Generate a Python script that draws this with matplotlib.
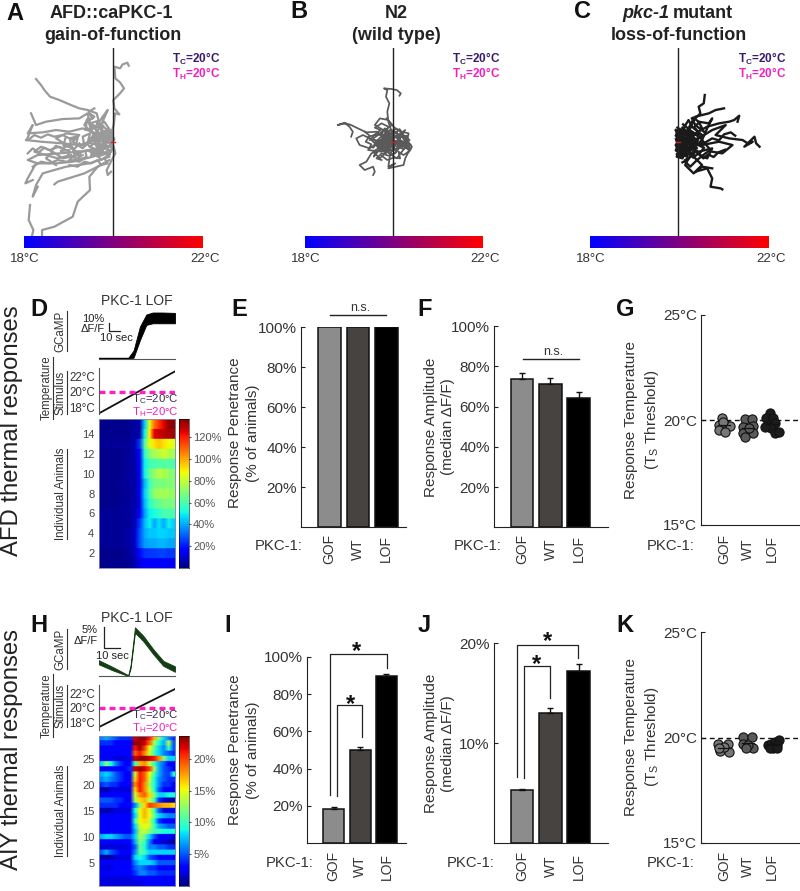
import numpy as np
import matplotlib
matplotlib.use("Agg")
import matplotlib.pyplot as plt
from matplotlib.colors import LinearSegmentedColormap
from matplotlib.lines import Line2D

plt.rcParams['font.family'] = ['Liberation Sans', 'DejaVu Sans']
plt.rcParams['mathtext.fontset'] = 'custom'
plt.rcParams['mathtext.rm'] = 'Liberation Sans'
plt.rcParams['mathtext.bf'] = 'Liberation Sans:bold'

# worm tracks, offsets from the start point
tracks_a = [
    [(0,0),(-3,-30),(3,-50),(7,-85),(20,-82),(5,-100),(2,-125),(22,-145),(34,-160),(22,-178),(8,-190),(5,-225),(22,-220),(30,-232),(44,-237),(48,-228)],
    [(0,0),(-25,-20),(-40,-55),(-48,-85),(-75,-95),(-100,-100),(-125,-110),(-160,-125),(-188,-135),(-205,-155),(-215,-170),(-230,-188)],
    [(0,0),(-40,-25),(-70,-60),(-75,-85),(-100,-70),(-150,-68),(-200,-60),(-230,-50),(-245,-85)],
    [(-5,-5),(-50,-25),(-90,-40),(-130,-30),(-170,-35),(-210,-28),(-255,-25),(-240,-50),(-258,-5)],
    [(-5,5),(-50,-5),(-100,10),(-150,5),(-215,0),(-260,-5)],
    [(-5,15),(-60,25),(-100,30),(-160,35),(-225,40),(-255,55),(-225,65)],
    [(-5,25),(-60,45),(-120,60),(-170,65),(-230,65),(-255,110),(-262,125),(-240,115)],
    [(-10,45),(-70,65),(-140,75),(-210,95),(-230,130),(-240,165),(-225,135)],
    [(-10,55),(-45,75),(-70,105),(-68,145),(-105,180),(-120,225),(-175,255),(-212,265),(-212,282)],
    [(-25,65),(-85,95),(-165,120),(-175,128)],
    [(-248,190),(-252,235),(-238,265),(-242,282)],
    [(3,15),(8,35),(-3,55),(-18,85),(-15,100),(-5,90)],
    [(0,0),(-20,-30),(-45,-10),(-65,-35),(-75,-70),(-85,-50),(-40,-5),(-70,15),(-30,30),(-60,35),(-20,10),(0,20)],
    [(-10,-10),(-60,-10),(-90,20),(-120,0),(-100,-20),(-140,-25),(-170,-10),(-130,15),(-100,40),(-150,50),(-180,30),(-200,50),(-170,70)],
    [(0,10),(-30,-15),(-55,-40),(-25,-60),(-5,-30),(-30,5),(-50,25),(-10,40),(-35,55),(-60,20),(-80,5)],
    [(-15,0),(-45,20),(-30,-25),(-70,-5),(-40,-40),(-15,-20),(-25,15),(-5,30),(-45,45),(-75,25),(-110,35),(-130,55),(-100,60),(-80,45)],
    [(-60,-70),(-70,-85),(-55,-75),(-75,-60),(-50,-45),(-30,-75),(-15,-95),(-35,-50),(-15,-35)],
    [(-130,30),(-160,15),(-190,25),(-215,15),(-235,30),(-200,40),(-165,50),(-125,40)],
    [(0,-5),(-12,-18),(-30,-8),(-22,12),(-45,5),(-38,-22),(-60,-18),(-52,8),(-75,2),(-68,-25),(-90,-15),(-85,12),(-110,8),(-105,-12),(-128,-5),(-122,18),(-148,12),(-142,-10)],
    [(-5,5),(-18,22),(-8,38),(-32,32),(-25,12),(-48,18),(-42,38),(-65,42),(-58,22),(-82,28),(-78,48),(-102,52),(-95,30),(-118,28),(-112,48),(-135,45),(-130,25),(-155,28)],
    [(-2,-10),(-15,-35),(-35,-28),(-28,-48),(-50,-42),(-45,-62),(-68,-55),(-60,-38),(-82,-35),(-78,-58),(-62,-72),(-72,-90),(-55,-100)],
    [(-20,-15),(-10,-8),(-28,5),(-15,18),(-35,25),(-50,12),(-40,-5),(-58,-8),(-48,-25),(-30,-18),(-18,-38),(-5,-22),(5,-8),(-8,8),(3,22),(-12,30)],
    [(-100,5),(-115,22),(-135,8),(-150,22),(-170,12),(-185,28),(-205,18),(-222,32),(-240,20),(-255,35)],
    [(-110,-15),(-130,-10),(-150,-20),(-175,-15),(-195,-22),(-215,-12),(-235,-20),(-250,-8)],
    [(-90,40),(-115,55),(-140,60),(-165,55),(-190,65),(-215,60),(-240,75)],
    [(-5,30),(-25,50),(-15,65),(-35,70),(-45,55),(-65,65),(-85,60),(-105,75),(-130,70)],
]
tracks_b = [
    [(0,0),(-5,-30),(-15,-60),(-18,-90),(-12,-115),(-22,-135),(-18,-155),(-28,-160),(-5,-158),(10,-155),(22,-145),(18,-138)],
    [(-20,-10),(-50,-30),(-80,-28),(-105,-40),(-125,-50),(-140,-55),(-165,-50),(-145,-57),(-130,-45),(-120,-30),(-125,-15)],
    [(0,0),(-30,-35),(-55,-50),(-40,-70),(-15,-65),(5,-40),(25,-30),(45,-25),(40,0),(55,15),(45,30)],
    [(-10,5),(-40,25),(-65,35),(-80,60),(-100,70),(-85,85),(-60,75),(-55,90),(-60,100)],
    [(5,5),(-10,40),(-15,75),(5,65),(-15,80),(30,70),(35,50),(45,30)],
    [(0,0),(-60,-5),(-90,-20),(-110,-10),(-100,10),(-70,20),(-50,5),(-30,30),(-10,10),(10,25),(30,5),(50,20),(25,-15),(0,-30),(-25,-15)],
    [(-5,0),(-35,-25),(-75,-15),(-50,10),(-20,-10),(10,-15),(35,-35),(15,-5),(-10,20),(-40,15),(-60,-10),(-30,-30),(-5,-50),(-20,-70)],
    [(0,5),(30,15),(45,5),(25,30),(10,50),(-20,30),(-40,50),(-60,30),(-30,10),(20,-5),(40,20)],
    [(-25,5),(-5,15),(-40,-5),(-15,-15),(-45,15),(-10,25),(-30,-15),(5,10),(-20,25),(15,-5),(-35,30),(-5,-10),(-50,0),(0,15)],
    [(-45,-25),(-30,-10),(-48,5),(-25,15),(-40,30),(-15,25),(-5,40),(10,28),(-8,12),(12,5),(-5,-12),(15,-22),(-10,-35),(-28,-22),(-18,-5),(5,-2),(28,8),(40,-10),(22,-20)],
    [(-70,-5),(-55,-22),(-38,-35),(-55,-42),(-35,-55),(-15,-45),(-22,-28),(0,-20),(18,-38),(30,-20),(48,-5),(32,12),(48,28),(30,40),(15,30),(20,50),(0,48),(-18,55),(-35,42)],
    [(-85,-30),(-70,-18),(-82,0),(-65,8),(-75,25),(-50,28),(-58,45),(-38,20),(-22,35),(-28,8),(-10,-8),(-35,-15),(-12,-25),(8,-12),(25,-2),(10,15),(30,22),(52,10),(35,-8)],
    [(-25,-10),(-15,5),(-30,12),(-10,18),(-20,30),(0,22),(8,8),(-5,0),(5,-15),(-12,-18),(-22,-30),(-5,-35),(10,-28),(20,-10),(15,10),(35,15),(52,22),(40,35)],
    [(-60,18),(-42,-2),(-30,20),(-12,5),(-20,-15),(-40,-25),(-25,-40),(-8,-25),(8,-40),(22,-28),(12,-5),(30,0),(18,18),(5,35),(-15,42),(-35,35),(-50,50),(-35,55)],
    [(-10,-2),(-2,8),(-18,12),(-8,-12),(-25,-5),(-32,8),(-18,22),(-2,28),(12,18),(22,5),(12,-10),(28,-15),(38,5),(25,18),(42,-18),(-40,-12),(-55,5),(-42,22)],
]
tracks_c = [
    [(0,0),(25,-30),(40,-60),(65,-85),(60,-105),(75,-115),(78,-140)],
    [(0,0),(35,-40),(50,-75),(90,-85),(110,-95),(135,-100)],
    [(0,0),(50,-25),(85,-45),(120,-55),(150,-60),(165,-65),(180,-78),(175,-60)],
    [(0,0),(60,-10),(100,-35),(140,-50),(110,-20),(150,-10),(190,-5),(205,5),(220,0),(195,15),(225,-15),(230,5),(240,15)],
    [(0,5),(70,10),(120,0),(160,10),(130,35),(100,30)],
    [(0,5),(40,40),(70,70),(50,90),(85,80),(100,110),(95,135),(125,140),(130,143)],
    [(0,10),(30,50),(20,70),(45,95),(70,75),(100,80)],
    [(0,5),(60,30),(100,20),(85,50),(65,40)],
    [(-5,-30),(5,-10),(-8,10),(8,30),(-5,45),(12,50),(25,20),(5,-20),(15,-40),(-3,-15),(20,5),(-6,25),(30,-15),(35,15),(10,40),(50,5),(25,-30)],
    [(0,-35),(12,-20),(-5,0),(15,15),(0,30),(30,35),(45,15),(20,-5),(40,-30),(60,-15),(45,40),(20,55)],
    [(5,-25),(-6,-5),(25,0),(-3,20),(35,-20),(10,10),(55,20),(15,-30),(70,-20),(40,-45),(30,-65),(15,-40),(-4,-28)],
    [(40,-70),(50,-50),(75,-30),(60,-60),(90,-55),(100,-70),(85,-40),(70,-5),(95,25),(80,35),(55,55),(35,75),(20,60)],
    [(-8,-35),(2,-28),(-8,-18),(6,-12),(-6,-4),(8,4),(-7,12),(6,18),(-8,26),(6,34),(-4,42),(10,48),(18,32),(8,14),(20,-2),(10,-20),(22,-34),(12,-42)],
    [(4,-38),(-6,-30),(10,-24),(-5,-12),(14,-8),(-4,2),(16,10),(-2,20),(18,26),(2,38),(24,44),(34,28),(22,12),(38,2),(26,-14),(42,-24),(28,-40),(14,-52)],
    [(-3,-42),(8,-32),(18,-18),(4,-6),(24,-2),(10,12),(28,18),(14,32),(36,40),(50,26),(38,10),(56,-2),(42,-16),(60,-28),(46,-44),(62,-58),(44,-72)],
    [(-7,-8),(3,-16),(12,0),(0,8),(-6,20),(10,24),(22,8),(32,-8),(18,-24),(34,-34),(52,-22),(70,-8),(58,10),(76,18),(62,36),(44,28),(30,52),(12,62)],
    [(-6,-22),(12,-28),(2,-12),(18,-14),(6,2),(-5,10),(14,18),(2,28),(-5,38),(16,40),(30,30),(44,48),(58,36),(74,50),(88,38),(104,46),(118,32),(138,24)],
    [(5,-15),(-4,-5),(8,8),(-3,16),(12,30),(26,22),(16,5),(32,-6),(24,-22),(40,-12),(56,6),(80,2),(100,-10),(120,-4),(135,-22),(155,-28),(168,-18)],
]

# heatmaps, top row first
heat_d = [
    [2,2,2,2,2,2,3,4,5,45,85,108,118,125,135,135],
    [2,2,2,2,2,2,3,4,6,50,90,125,128,130,132,132],
    [3,3,3,3,3,3,4,6,25,62,85,92,96,92,88,85],
    [2,2,2,2,2,3,4,6,18,55,70,75,78,82,78,75],
    [2,2,2,2,2,3,4,6,14,50,58,60,62,62,62,60],
    [2,2,2,2,2,3,4,5,14,50,65,72,78,76,72,70],
    [2,2,2,2,3,3,4,6,12,42,58,66,68,68,70,70],
    [2,2,2,2,2,3,4,5,14,45,60,72,75,75,74,72],
    [2,2,2,2,3,3,4,5,12,42,55,62,65,68,68,68],
    [3,3,3,3,3,4,4,6,15,38,50,52,56,60,60,60],
    [3,3,3,3,3,3,4,8,25,42,50,40,48,40,50,45],
    [3,3,3,3,3,4,5,10,28,40,44,44,46,46,44,44],
    [3,3,3,3,3,4,5,10,28,38,40,40,42,42,40,40],
    [2,2,2,2,2,3,4,8,18,24,25,25,26,26,25,25],
    [2,2,2,2,2,2,3,6,12,15,15,15,15,15,15,15],
]
heat_h = [
    [6,7,6,5,4,4,4,22,23,23,21,17,12,8,6,4],
    [4,4,4,3,3,3,3,23,23,22,19,13,9,7,13,5],
    [3,3,3,3,3,3,3,21,23,20,15,11,8,6,10,5],
    [3,3,3,3,3,3,3,19,21,18,14,10,8,6,5,4],
    [3,3,3,2,2,2,3,22,23,23,22,21,18,12,8,8],
    [8,12,9,6,4,3,3,10,17,18,14,10,7,5,3,3],
    [3,3,3,3,3,3,4,22,23,22,20,13,7,5,4,3],
    [7,8,7,5,4,3,3,14,21,19,15,10,7,5,4,9],
    [6,7,6,5,4,3,3,16,21,19,14,9,6,5,4,4],
    [4,5,4,4,3,3,3,18,21,18,13,9,6,4,4,3],
    [1,1,2,2,2,2,2,16,21,18,14,9,5,3,3,3],
    [3,3,3,3,3,3,3,14,18,19,16,12,8,8,9,9],
    [5,5,5,4,4,3,3,13,16,17,14,10,4,2,1,1],
    [4,4,4,4,3,3,3,6,12,16,20,19,18,17,17,16],
    [1,1,1,2,2,2,2,9,15,17,15,10,5,2,2,3],
    [3,3,3,3,3,3,3,8,15,17,15,11,8,7,6,6],
    [3,3,3,3,3,3,3,10,15,16,14,9,4,3,3,3],
    [3,3,3,3,3,3,3,8,14,15,14,10,7,6,5,5],
    [3,3,3,3,3,3,3,7,13,14,12,10,10,9,9,9],
    [7,8,8,7,6,5,5,8,13,11,8,5,3,3,3,2],
    [3,3,3,3,3,3,3,7,12,10,6,3,2,2,1,1],
    [2,2,2,2,2,2,3,5,11,9,6,6,5,5,4,4],
    [5,7,5,4,3,3,3,6,11,10,8,8,8,8,8,8],
    [1,1,1,2,2,2,2,8,9,8,5,4,3,3,3,3],
    [3,3,3,3,3,3,3,6,8,8,8,7,5,5,5,5],
    [2,2,2,3,3,3,3,5,6,5,4,4,3,3,3,3],
    [3,3,3,3,3,3,3,4,6,6,5,5,4,4,4,4],
    [2,2,2,2,2,2,2,3,3,3,3,3,3,3,3,3],
    [2,2,2,2,2,2,2,2,2,3,3,3,3,3,3,3],
]

# calcium traces
d_time = [0,14,28,33,39,45,51,60,72]
d_upper = [1,1,1,10,40,55,57.5,57.5,57]
d_lower = [0,0,0,1,23,42,44,44,44]
h_time = [0,13.8,28,30.2,34.3,42.1,51.5,61,72]
h_upper = [3.8,2.1,0.2,2.6,11.6,9.6,6.4,3.6,2.3]
h_lower = [2.8,1.3,0,1.8,10.3,8.3,5.2,2.4,1.0]

stim_time = [0,72]
d_stim = [17.2,22.6]
h_stim = [17.37,22.58]

# bars
genotypes = ['GOF','WT','LOF']
bar_colors = ['#8c8c8c','#474341','#000000']
e_vals = [100,100,100]
f_vals = [73.7,71,64]
f_tops = [76.7,74,67.2]
i_vals = [18.3,49.8,89.6]
i_tops = [19.2,51.6,90.7]
j_vals = [5.38,13.03,17.2]
j_tops = [5.48,13.56,17.95]

# threshold scatter: position offset and temperature per genotype
g_off = [[-.08,-.2,.1,.25,-.2,.05,-.05],[-.11,.15,-.2,.23,-.2,.23,-.11,.05],[-.1,-.26,.05,-.18,.12,-.03,.12,.28,-.3]]
g_temp = [[20.08,19.76,19.76,19.71,19.52,19.44,19.92],[20.03,20.03,19.68,19.71,19.37,19.37,19.17,19.6],[20.32,20.08,20.08,19.76,19.84,19.6,19.37,19.44,19.65]]
k_off = [[-.23,.15,-.15,.2,0,-.2],[-.2,.18,-.2,.23,0,-.08],[-.18,-.03,.12,.28,.2,.05,-.1,.2]]
k_temp = [[19.68,19.68,19.37,19.32,19.56,19.48],[20.03,20.03,19.71,19.48,19.63,19.48],[19.63,19.71,19.79,19.87,19.63,19.48,19.52,19.48]]
dot_colors = ['#777777','#5a5a5a','#1c1c1c']

W, H = 800, 891
fig = plt.figure(figsize=(W/100, H/100), dpi=100)
renderer = fig.canvas.get_renderer()


def px_axes(x0, y0, x1, y1):
    return fig.add_axes([x0/W, 1-y1/H, (x1-x0)/W, (y1-y0)/H])


def txt(x, y, s, size=10, ha='center', va='center', **kw):
    return fig.text(x/W, 1-y/H, s, fontsize=size, ha=ha, va=va, **kw)


def line(xs, ys, lw=1.0, color='#222222'):
    fig.add_artist(Line2D([v/W for v in xs], [1-v/H for v in ys], lw=lw, color=color, transform=fig.transFigure))


def under_label(x, y, s):
    t = txt(x, y, s, size=8.3, rotation=90, color='#333333')
    bb = t.get_window_extent(renderer)
    line([bb.x1+0.3, bb.x1+0.3], [H-bb.y0-1, H-bb.y1+1], lw=0.8, color='#333333')


# top row
blue_red = LinearSegmentedColormap.from_list('br', ['#0000ff', '#ff0000'])
panels = [
    (tracks_a, 23.5, 201.7, 112.7, 3.0, '#9a9a9a', 1.6),
    (tracks_b, 304.5, 482, 393.4, 2.958, '#5a5a5a', 1.25),
    (tracks_c, 589.5, 767.6, 678.4, 2.958, '#1a1a1a', 1.7),
]
for tracks, x0, x1, xc, sc, col, lw in panels:
    ax = px_axes(x0, 48, x1, 236)
    ax.set_xlim((x0-xc)*sc, (x1-xc)*sc)
    ax.set_ylim((236-141.7)*3, (48-141.7)*3)
    ax.axis('off')
    for tr in tracks:
        ax.plot([p[0] for p in tr], [p[1] for p in tr], color=col, lw=lw, solid_joinstyle='round')
    ax.plot([0, 0], [(48-141.7)*3, (236-141.7)*3], color='#222222', lw=1.0)
    ax.plot([-6, 6], [0, 0], color='#d02020', lw=1.0)
    cb = px_axes(x0, 236, x1, 248)
    cb.imshow(np.linspace(0, 1, 256)[None, :], aspect='auto', cmap=blue_red)
    cb.axis('off')
    txt(x0+1.5, 259, '18°C', size=9.5, color='#333333')
    txt(x1+3.5, 259, '22°C', size=9.5, color='#333333')
    txt(x1+18.5, 59.3, r'T$_{\mathbf{C}}$=20°C', size=8.5, ha='right', weight='bold', color='#3a1a6a')
    txt(x1+18.5, 74, r'T$_{\mathbf{H}}$=20°C', size=8.5, ha='right', weight='bold', color='#f020c0')

title_kw = dict(size=13, weight='bold', color='#222222')
txt(111.7, 13.3, 'AFD::caPKC-1', **title_kw)
txt(113, 35, 'gain-of-function', **title_kw)
txt(395.8, 13.3, 'N2', **title_kw)
txt(396, 35, '(wild type)', **title_kw)
txt(669.5, 13.3, 'pkc-1', ha='right', style='italic', **title_kw)
txt(673, 13.3, 'mutant', ha='left', **title_kw)
txt(678.4, 35, 'loss-of-function', **title_kw)

# panel letters
letters = [('A',15,13),('B',299,12),('C',582.7,12),('D',39,309),('E',239.6,309),('F',425,309),('G',625,309),
           ('H',39,625),('I',228,625),('J',424,625),('K',625,625)]
for s, x, y in letters:
    txt(x, y, s, size=17, weight='bold', color='#111111')

txt(12, 431, 'AFD thermal responses', size=17.2, rotation=90, color='#222222')
txt(12, 750, 'AIY thermal responses', size=17.2, rotation=90, color='#222222')

# left columns
rows = [
    dict(top=290, title_y=301, trace=(305, 358.5, 53.5/0.8), t=d_time, up=d_upper, lo=d_lower, fill='#000000',
         stim=(368, 414, 17.15, 23.03), stim_v=d_stim, t1=398.7, t2=412,
         hm=(419, 568), heat=heat_d, vmax=137, yt=[2,4,6,8,10,12,14], cbt=[20,40,60,80,100,120]),
    dict(top=600, title_y=618.3, trace=(622, 676, 12.86), t=h_time, up=h_upper, lo=h_lower, fill='#143d14',
         stim=(685, 730, 17.0, 23.13), stim_v=h_stim, t1=715, t2=728,
         hm=(736, 886), heat=heat_h, vmax=23.6, yt=[5,10,15,20,25], cbt=[5,10,15,20]),
]
for r in rows:
    txt(136.7, r['title_y'], 'PKC-1 LOF', size=10, color='#333333')
    y0, y1, ymax = r['trace']
    ax = px_axes(98.5, y0, 175, y1)
    ax.fill_between(r['t'], r['lo'], r['up'], color=r['fill'], lw=0.6)
    ax.set_xlim(0, 72)
    ax.set_ylim(0, ymax)
    ax.patch.set_alpha(0)
    for sp in ['top', 'left', 'right']:
        ax.spines[sp].set_visible(False)
    ax.spines['bottom'].set_color('#555555')
    ax.set_xticks([])
    ax.set_yticks([])

    y0, y1, lo, hi = r['stim']
    ax = px_axes(98.5, y0, 175, y1)
    ax.plot(stim_time, r['stim_v'], color='#111111', lw=1.3)
    ax.plot(stim_time, [20, 20], color='#ff20c0', lw=2.4, ls=(0, (1.8, 1.2)))
    ax.set_xlim(0, 72)
    ax.set_ylim(lo, hi)
    ax.patch.set_alpha(0)
    for sp in ['top', 'bottom', 'right']:
        ax.spines[sp].set_visible(False)
    ax.spines['left'].set_color('#555555')
    ax.set_xticks([])
    ax.set_yticks([18, 20, 22])
    ax.set_yticklabels(['18°C', '20°C', '22°C'], fontsize=8.3, color='#333333')
    ax.tick_params(axis='y', length=0, pad=2.5)
    txt(179, r['t1'], r'T$_{\mathrm{C}}$=20°C', size=8.2, ha='right', color='#3a2a4a')
    txt(179, r['t2'], r'T$_{\mathrm{H}}$=20°C', size=8.2, ha='right', color='#f020c0')

    y0, y1 = r['hm']
    n = len(r['heat'])
    ax = px_axes(98.5, y0, 175, y1)
    # rows stay as bands, columns get smoothed
    cells = np.repeat(np.array(r['heat'], dtype=float), 8, axis=0)
    ax.imshow(cells, aspect='auto', cmap='jet', vmin=0, vmax=r['vmax'],
              extent=[0, 72, 0.5, n+0.5], origin='upper', interpolation='bilinear')
    ax.set_xticks([])
    ax.set_yticks(r['yt'])
    ax.set_yticklabels(r['yt'], fontsize=8, color='#444444')
    ax.tick_params(axis='y', length=0, pad=3)
    for sp in ax.spines.values():
        sp.set_color('#8888aa')
        sp.set_linewidth(0.6)

    ax = px_axes(179, y0, 189, y1)
    ax.imshow(np.linspace(r['vmax'], 0, 256)[:, None], aspect='auto', cmap='jet', vmin=0, vmax=r['vmax'],
              extent=[0, 1, 0, r['vmax']])
    ax.set_xticks([])
    ax.yaxis.tick_right()
    ax.set_yticks(r['cbt'])
    ax.set_yticklabels([f'{v}%' for v in r['cbt']], fontsize=8, color='#555555')
    ax.tick_params(axis='y', length=1.5, pad=1.5, color='#555555')
    for sp in ax.spines.values():
        sp.set_linewidth(0.4)

under_label(60.5, 331, 'GCaMP')
under_label(46.5, 388, 'Temperature')
under_label(60.5, 392.5, 'Stimulus')
under_label(60.5, 494, 'Individual Animals')
under_label(60.5, 649, 'GCaMP')
under_label(46.5, 705.5, 'Temperature')
under_label(60.5, 706, 'Stimulus')
under_label(60.5, 811, 'Individual Animals')

# scale bars
line([109.3, 109.3, 120], [322.7, 330.7, 330.7], lw=0.9)
txt(104.5, 318.8, '10%', size=8, ha='right', color='#222222')
txt(105, 329, 'ΔF/F', size=8, ha='right', color='#222222')
txt(116.7, 338.3, '10 sec', size=8, color='#222222')
line([103.7, 103.7, 120], [627.3, 648.3, 648.3], lw=0.9)
txt(98, 630, '5%', size=8, ha='right', color='#222222')
txt(98, 640.5, 'ΔF/F', size=8, ha='right', color='#222222')
txt(112.7, 655.7, '10 sec', size=8, color='#222222')


def style(ax):
    ax.spines['top'].set_visible(False)
    ax.spines['right'].set_visible(False)
    ax.spines['left'].set_color('#222222')
    ax.spines['bottom'].set_color('#222222')
    ax.tick_params(axis='y', direction='in', length=3, pad=3, color='#222222')
    ax.set_xticks([])
    ax.patch.set_alpha(0)


def pkc_labels(centers, y, right):
    txt(right, y, 'PKC-1:', size=10.7, ha='right', color='#333333')
    for c, g in zip(centers, genotypes):
        txt(c, y+3, g, size=10, rotation=90, color='#333333')


def bars(box, xlim, vals, tops, ylim, ticks, labels, width=0.8):
    ax = px_axes(*box)
    ax.bar(range(3), vals, width=width, color=bar_colors, edgecolor='#111111', linewidth=1.1)
    if tops is not None:
        up = [t-v for t, v in zip(tops, vals)]
        ax.errorbar(range(3), vals, yerr=[[0, 0, 0], up], fmt='none', ecolor='#111111', elinewidth=1, capsize=2)
    ax.set_xlim(*xlim)
    ax.set_ylim(*ylim)
    style(ax)
    ax.set_yticks(ticks)
    ax.set_yticklabels(labels, fontsize=11, color='#333333')
    return ax


pct = [20, 40, 60, 80, 100]
pct_lab = ['20%', '40%', '60%', '80%', '100%']
bars((301.4, 327.3, 406, 527.3), (-1.0, 2.7), e_vals, None, (0, 100), pct, pct_lab)
bars((493.8, 326, 607.7, 527.3), (-1.0, 3.02), f_vals, f_tops, (0, 100), pct, pct_lab)
bars((307.3, 656.7, 406, 843.3), (-1.0, 2.74), i_vals, i_tops, (0, 100), pct, pct_lab)
bars((493.8, 643.3, 607.7, 843.3), (-1.0, 3.02), j_vals, j_tops, (0, 20), [10, 20], ['10%', '20%'])

pkc_labels([329.7, 358.1, 386], 546, 302.5)
pkc_labels([522.2, 550.8, 578.9], 546, 502)
pkc_labels([333.7, 360.2, 386.5], 863, 314)
pkc_labels([522.2, 550.8, 578.9], 863, 495)

# significance marks
line([330.2, 385.7], [315, 315])
txt(360.6, 308, 'n.s.', size=9, color='#333333')
line([522.6, 578.9], [359.3, 359.3])
txt(553, 352, 'n.s.', size=9, color='#333333')
line([330.2, 330.2, 386.9, 386.9], [795, 654.3, 654.3, 668.3], lw=0.9)
line([336.9, 336.9, 361.7, 361.7], [796, 705.3, 705.3, 737.3], lw=0.9)
txt(356.1, 652, '*', size=17, weight='bold', color='#111111')
txt(351, 704.5, '*', size=17, weight='bold', color='#111111')
line([516.7, 516.7, 578.1, 578.1], [776.7, 645, 645, 658.3], lw=0.9)
line([523.7, 523.7, 550, 550], [777.7, 665.7, 665.7, 698.3], lw=0.9)
txt(547.8, 642, '*', size=17, weight='bold', color='#111111')
txt(536, 664.5, '*', size=17, weight='bold', color='#111111')

# threshold scatter panels
for box, offs, temps, lab_y in [((701, 315, 799, 525), g_off, g_temp, 546), ((701, 632.3, 799, 842.7), k_off, k_temp, 863)]:
    ax = px_axes(*box)
    ax.axhline(20, color='#111111', lw=1, ls=(0, (3.5, 2.5)))
    for i in range(3):
        ax.plot([i+o for o in offs[i]], temps[i], 'o', ms=6.6, mfc=dot_colors[i], mec='#111111', mew=0.8, ls='none')
        ax.plot([i-0.25, i+0.25], [np.mean(temps[i])]*2, color='#111111', lw=0.9)
    ax.set_xlim(-0.96, 3.13)
    ax.set_ylim(15, 25)
    style(ax)
    ax.set_yticks([15, 20, 25])
    ax.set_yticklabels(['15°C', '20°C', '25°C'], fontsize=11, color='#333333')
    pkc_labels([724, 747.5, 772], lab_y, 695)

# y labels
ylab_kw = dict(size=11, rotation=90, color='#333333', linespacing=1.35, multialignment='center')
txt(244, 433, 'Response Penetrance\n(% of animals)', **ylab_kw)
txt(439.5, 427, 'Response Amplitude\n(median ΔF/F)', **ylab_kw)
txt(642.5, 420, 'Response Temperature\n(T$_{\\mathrm{S}}$ Threshold)', **ylab_kw)
txt(244, 750, 'Response Penetrance\n(% of animals)', **ylab_kw)
txt(439.5, 743.7, 'Response Amplitude\n(median ΔF/F)', **ylab_kw)
txt(642.5, 737, 'Response Temperature\n(T$_{\\mathrm{S}}$ Threshold)', **ylab_kw)

fig.savefig('out.png', dpi=100)
